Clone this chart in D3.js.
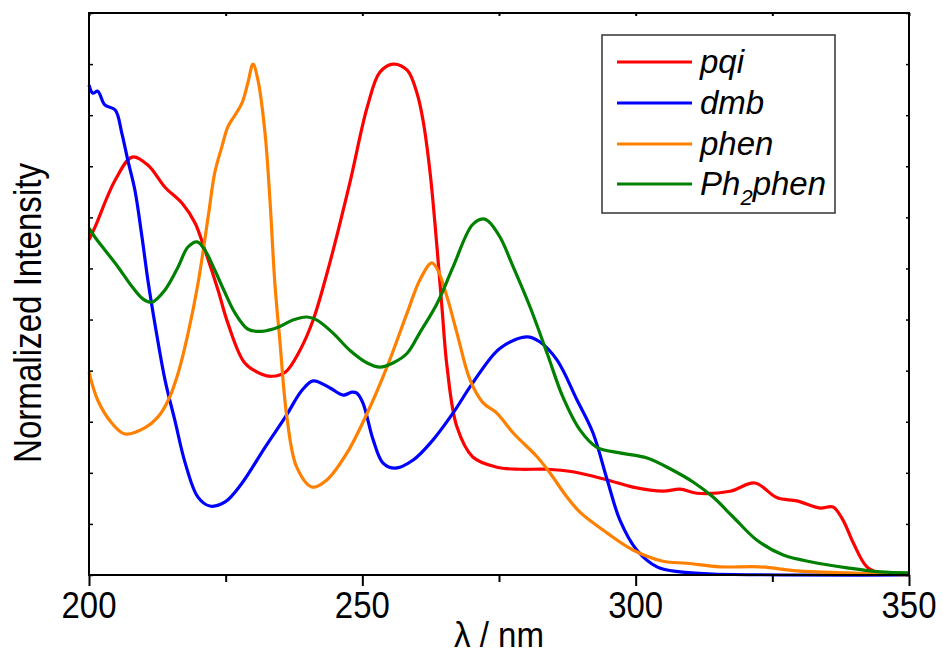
<!DOCTYPE html>
<html>
<head>
<meta charset="utf-8">
<script src="https://cdn.jsdelivr.net/npm/d3@7"></script>
<style>
  html, body { margin: 0; padding: 0; background: #fff; }
  svg { display: block; font-family: "Liberation Sans", Arial, sans-serif; }
</style>
</head>
<body>
<svg id="chart" width="943" height="653"></svg>
<script>
// ---- data (wavelength nm, normalized intensity) ----
const seriesNames = ["pqi", "dmb", "phen", "Ph2phen"];
const seriesColors = ["#ff0000", "#0000ff", "#ff8000", "#008000"];

const pqiX = [200, 201.1, 204.8, 207.9, 210.8, 213.9, 217.0, 219.4, 221.2, 223.6, 225.4, 228.5, 231.6, 233.5, 235.9, 238.6, 241.0, 244.1, 247.7, 250.9, 253.2, 255.6, 258.2, 260.0, 261.1, 262.4, 263.7, 264.6, 265.5, 267.3, 270.2, 274.6, 278.8, 283.8, 288.5, 294.8, 299.5, 305.0, 308.1, 311.2, 317.3, 321.8, 325.9, 329.5, 333.7, 336.1, 337.9, 339.8, 342.3, 344.7, 350];
const pqiY = [0.656, 0.681, 0.773, 0.818, 0.802, 0.759, 0.728, 0.689, 0.636, 0.558, 0.493, 0.415, 0.393, 0.389, 0.397, 0.440, 0.499, 0.613, 0.767, 0.916, 0.984, 1.0, 0.988, 0.943, 0.890, 0.787, 0.636, 0.519, 0.407, 0.290, 0.231, 0.211, 0.207, 0.207, 0.202, 0.186, 0.172, 0.164, 0.168, 0.160, 0.164, 0.180, 0.151, 0.145, 0.131, 0.133, 0.108, 0.063, 0.016, 0.004, 0.002];

const dmbX = [200, 200.7, 201.6, 202.9, 204.8, 206.0, 207.1, 208.4, 209.7, 210.8, 212.1, 213.9, 215.7, 217.6, 219.9, 222.1, 224.9, 228.0, 232.2, 235.9, 239.0, 241.0, 244.1, 246.5, 248.1, 249.0, 250.1, 252.0, 253.8, 256.0, 259.3, 262.9, 266.6, 270.2, 275.2, 280.1, 282.5, 285.6, 289.3, 292.2, 294.8, 297.1, 300.2, 303.9, 308.1, 314.1, 350];
const dmbY = [0.959, 0.943, 0.947, 0.920, 0.910, 0.865, 0.812, 0.753, 0.661, 0.575, 0.489, 0.382, 0.303, 0.219, 0.153, 0.135, 0.143, 0.180, 0.250, 0.309, 0.362, 0.380, 0.366, 0.352, 0.358, 0.356, 0.337, 0.264, 0.219, 0.209, 0.225, 0.264, 0.317, 0.376, 0.444, 0.466, 0.456, 0.421, 0.342, 0.278, 0.186, 0.108, 0.049, 0.016, 0.006, 0.002, 0.0];

const phenX = [200, 201.6, 204.2, 206.6, 210.2, 212.6, 214.5, 216.3, 218.1, 219.9, 221.8, 223.0, 224.3, 225.4, 226.7, 228.0, 229.1, 230.0, 230.9, 232.2, 233.1, 234.0, 234.9, 236.2, 238.0, 240.8, 243.5, 247.2, 250.9, 254.5, 258.2, 260.5, 262.7, 263.8, 265.5, 267.3, 269.7, 272.1, 274.6, 277.6, 282.0, 284.3, 287.4, 289.8, 294.8, 299.5, 305.0, 309.4, 315.4, 322.7, 329.5, 338.7, 350];
const phenY = [0.397, 0.342, 0.297, 0.276, 0.288, 0.309, 0.342, 0.395, 0.472, 0.568, 0.701, 0.787, 0.838, 0.877, 0.900, 0.924, 0.965, 1.0, 0.969, 0.865, 0.734, 0.571, 0.460, 0.309, 0.211, 0.172, 0.186, 0.239, 0.317, 0.407, 0.513, 0.577, 0.611, 0.597, 0.544, 0.474, 0.382, 0.337, 0.317, 0.278, 0.231, 0.200, 0.153, 0.123, 0.082, 0.049, 0.027, 0.023, 0.016, 0.016, 0.008, 0.004, 0.0];

const ph2X = [200, 201.1, 202.9, 205.3, 207.9, 209.9, 211.5, 213.9, 216.3, 218.1, 219.8, 221.2, 223.0, 224.9, 226.7, 229.1, 231.6, 234.6, 237.3, 239.9, 241.7, 244.6, 247.7, 250.9, 253.2, 255.6, 258.2, 260.5, 263.7, 266.6, 270.1, 272.1, 273.0, 275.2, 277.6, 280.7, 283.8, 286.7, 289.8, 292.9, 297.1, 302.1, 306.8, 310.5, 314.1, 317.8, 322.2, 327.0, 332.4, 338.7, 344.7, 350];
const ph2Y = [0.679, 0.661, 0.636, 0.603, 0.564, 0.540, 0.534, 0.558, 0.603, 0.642, 0.652, 0.636, 0.597, 0.552, 0.513, 0.481, 0.477, 0.485, 0.499, 0.505, 0.499, 0.474, 0.440, 0.415, 0.407, 0.415, 0.434, 0.474, 0.532, 0.603, 0.685, 0.697, 0.693, 0.661, 0.603, 0.524, 0.434, 0.348, 0.284, 0.250, 0.239, 0.229, 0.205, 0.182, 0.153, 0.114, 0.068, 0.039, 0.025, 0.014, 0.006, 0.004];

const xTicks = [200, 250, 300, 350];
const xMinorTicks = [225, 275, 325];
const yTicks = [0, 0.1, 0.2, 0.3, 0.4, 0.5, 0.6, 0.7, 0.8, 0.9, 1.0, 1.1];

const seriesX = [pqiX, dmbX, phenX, ph2X];
const seriesY = [pqiY, dmbY, phenY, ph2Y];

// ---- layout ----
const svg = d3.select("#chart");
const L = 89, R = 909, T = 13, B = 575;
const x = d3.scaleLinear().domain([200, 350]).range([L, R]);
const y = d3.scaleLinear().domain([0, 1.1]).range([B, T]);

// curves
const line = d3.line().x(d => x(d[0])).y(d => y(d[1])).curve(d3.curveCatmullRom.alpha(0.5));
seriesNames.forEach((name, i) => {
  const pts = seriesX[i].map((v, j) => [v, seriesY[i][j]]);
  svg.append("path").datum(pts)
    .attr("d", line)
    .attr("fill", "none")
    .attr("stroke", seriesColors[i])
    .attr("stroke-width", 3.2)
    .attr("stroke-linejoin", "round");
});

// axes
const axisColor = "#000";
// bottom axis major ticks (outward)
svg.append("g").attr("transform", `translate(0,${B})`)
  .call(d3.axisBottom(x).tickValues(xTicks).tickSize(11).tickFormat("").tickSizeOuter(0))
  .call(g => g.select(".domain").remove())
  .selectAll(".tick line").attr("stroke", axisColor).attr("stroke-width", 2);
// bottom axis minor ticks
svg.append("g").attr("transform", `translate(0,${B})`)
  .call(d3.axisBottom(x).tickValues(xMinorTicks).tickSize(7).tickFormat("").tickSizeOuter(0))
  .call(g => g.select(".domain").remove())
  .selectAll(".tick line").attr("stroke", axisColor).attr("stroke-width", 2);

// tick labels
svg.append("g").selectAll("text").data(xTicks).join("text")
  .attr("x", d => x(d)).attr("y", 618)
  .attr("text-anchor", "middle")
  .attr("font-size", 36)
  .attr("textLength", 55).attr("lengthAdjust", "spacingAndGlyphs")
  .attr("fill", "#000")
  .text(d => d);

// top axis ticks (inward)
svg.append("g").attr("transform", `translate(0,${T})`)
  .call(d3.axisBottom(x).tickValues(xTicks.concat(xMinorTicks)).tickSize(3).tickFormat("").tickSizeOuter(0))
  .call(g => g.select(".domain").remove())
  .selectAll(".tick line").attr("stroke", axisColor).attr("stroke-width", 2);

// left axis ticks (inward)
svg.append("g").attr("transform", `translate(${L},0)`)
  .call(d3.axisRight(y).tickValues(yTicks).tickSize(4).tickFormat("").tickSizeOuter(0))
  .call(g => g.select(".domain").remove())
  .selectAll(".tick line").attr("stroke", axisColor).attr("stroke-width", 1.5);
// right axis ticks (inward)
svg.append("g").attr("transform", `translate(${R},0)`)
  .call(d3.axisLeft(y).tickValues(yTicks).tickSize(3).tickFormat("").tickSizeOuter(0))
  .call(g => g.select(".domain").remove())
  .selectAll(".tick line").attr("stroke", axisColor).attr("stroke-width", 1.5);

// frame
svg.append("rect").attr("x", L).attr("y", T).attr("width", R - L).attr("height", B - T)
  .attr("fill", "none").attr("stroke", axisColor).attr("stroke-width", 2);

// axis titles
svg.append("text")
  .attr("x", x(275)).attr("y", 647)
  .attr("text-anchor", "middle")
  .attr("font-size", 35)
  .attr("textLength", 90).attr("lengthAdjust", "spacingAndGlyphs")
  .attr("fill", "#000")
  .text("λ / nm");

svg.append("text")
  .attr("transform", "translate(41,313) rotate(-90)")
  .attr("text-anchor", "middle")
  .attr("font-size", 38)
  .attr("textLength", 300).attr("lengthAdjust", "spacingAndGlyphs")
  .attr("fill", "#000")
  .text("Normalized Intensity");

// legend
const lg = svg.append("g");
lg.append("rect").attr("x", 602).attr("y", 35).attr("width", 233).attr("height", 178)
  .attr("fill", "#fff").attr("stroke", "#333").attr("stroke-width", 1.5);
const rowY = [62, 103, 144, 184];
seriesNames.forEach((name, i) => {
  lg.append("line").attr("x1", 617).attr("x2", 692).attr("y1", rowY[i]).attr("y2", rowY[i])
    .attr("stroke", seriesColors[i]).attr("stroke-width", 3.2);
  const t = lg.append("text").attr("x", 700).attr("y", rowY[i] + 11)
    .attr("font-size", 33).attr("font-style", "italic").attr("fill", "#000");
  if (name === "Ph2phen") {
    t.append("tspan").text("Ph");
    t.append("tspan").attr("font-size", 22).attr("dy", 10).text("2");
    t.append("tspan").attr("dy", -10).text("phen");
  } else {
    t.text(name);
  }
});
</script>
</body>
</html>
